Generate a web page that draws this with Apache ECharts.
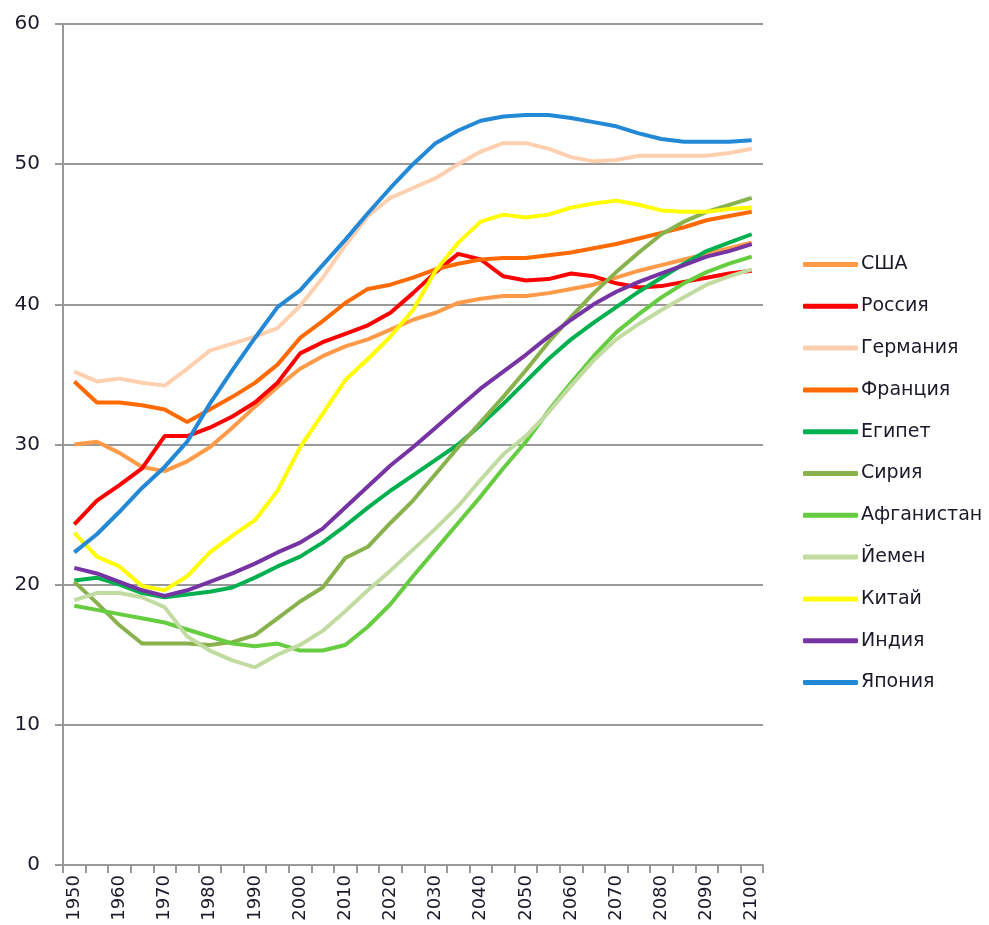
<!DOCTYPE html>
<html>
<head>
<meta charset="utf-8">
<script src="https://cdn.jsdelivr.net/npm/echarts@6/dist/echarts.min.js"></script>
<style>
html,body{margin:0;padding:0;background:#fff;}
#chart{width:989px;height:925px;}
</style>
</head>
<body>
<div id="chart"></div>
<script>
const years = [];
for (let y = 1950; y <= 2100; y += 5) years.push(String(y));

const usa         = [30.0,30.2,29.4,28.4,28.1,28.8,29.8,31.2,32.7,34.1,35.4,36.3,37.0,37.5,38.2,38.9,39.4,40.1,40.4,40.6,40.6,40.8,41.1,41.4,41.9,42.4,42.8,43.2,43.6,44.0,44.4];
const russia      = [24.3,26.0,27.1,28.3,30.6,30.6,31.2,32.0,33.0,34.4,36.5,37.3,37.9,38.5,39.4,40.8,42.3,43.6,43.2,42.0,41.7,41.8,42.2,42.0,41.5,41.2,41.3,41.6,41.9,42.2,42.4];
const germany     = [35.2,34.5,34.7,34.4,34.2,35.4,36.7,37.2,37.7,38.3,39.9,41.9,44.2,46.3,47.6,48.3,49.0,50.0,50.9,51.5,51.5,51.1,50.5,50.2,50.3,50.6,50.6,50.6,50.6,50.8,51.1];
const france      = [34.5,33.0,33.0,32.8,32.5,31.6,32.5,33.4,34.4,35.7,37.6,38.8,40.1,41.1,41.4,41.9,42.5,42.9,43.2,43.3,43.3,43.5,43.7,44.0,44.3,44.7,45.1,45.5,46.0,46.3,46.6];
const egypt       = [20.3,20.5,20.0,19.4,19.1,19.3,19.5,19.8,20.5,21.3,22.0,23.0,24.2,25.5,26.7,27.8,28.9,30.0,31.4,32.9,34.5,36.1,37.5,38.7,39.8,40.9,41.9,42.9,43.8,44.4,45.0];
const syria       = [20.2,18.7,17.1,15.8,15.8,15.8,15.7,15.9,16.4,17.6,18.8,19.8,21.9,22.7,24.4,26.0,27.9,29.8,31.6,33.4,35.3,37.3,39.1,40.8,42.3,43.7,45.0,45.9,46.6,47.1,47.6];
const afghanistan = [18.5,18.2,17.9,17.6,17.3,16.8,16.3,15.8,15.6,15.8,15.3,15.3,15.7,17.0,18.6,20.6,22.5,24.4,26.3,28.3,30.2,32.4,34.4,36.3,38.0,39.3,40.5,41.5,42.3,42.9,43.4];
const yemen       = [18.9,19.4,19.4,19.1,18.4,16.3,15.3,14.6,14.1,15.0,15.7,16.7,18.1,19.6,21.0,22.5,24.0,25.6,27.5,29.3,30.6,32.3,34.2,36.0,37.5,38.6,39.6,40.5,41.4,42.0,42.5];
const china       = [23.7,22.0,21.3,19.9,19.6,20.6,22.3,23.5,24.6,26.7,29.8,32.2,34.6,36.1,37.7,39.6,42.4,44.4,45.9,46.4,46.2,46.4,46.9,47.2,47.4,47.1,46.7,46.6,46.6,46.8,46.9];
const india       = [21.2,20.8,20.2,19.6,19.2,19.6,20.2,20.8,21.5,22.3,23.0,24.0,25.5,27.0,28.5,29.8,31.2,32.6,34.0,35.2,36.4,37.7,38.9,40.0,40.9,41.6,42.2,42.8,43.4,43.8,44.3];
const japan       = [22.3,23.6,25.2,26.9,28.4,30.2,32.9,35.3,37.6,39.8,41.0,42.8,44.6,46.5,48.3,50.0,51.5,52.4,53.1,53.4,53.5,53.5,53.3,53.0,52.7,52.2,51.8,51.6,51.6,51.6,51.7];

const seriesNames  = ['США','Россия','Германия','Франция','Египет','Сирия','Афганистан','Йемен','Китай','Индия','Япония'];
const seriesData   = [usa, russia, germany, france, egypt, syria, afghanistan, yemen, china, india, japan];
const seriesColors = ['#FF9A48','#FF0000','#FFD0B0','#FF6A00','#00B04F','#88B24C','#66CC40','#C2DBA0','#FFFF00','#7533A3','#2389D6'];

const yTicks = [0,10,20,30,40,50,60];

const font = '"DejaVu Sans", Verdana, sans-serif';

const chart = echarts.init(document.getElementById('chart'), null, {renderer:'canvas'});
chart.setOption({
  backgroundColor: '#ffffff',
  animation: false,
  grid: { left: 63, right: 226, top: 24, bottom: 60, containLabel: false },
  legend: {
    orient: 'vertical',
    left: 803,
    top: 255,
    padding: 0,
    icon: 'roundRect',
    itemWidth: 55,
    itemHeight: 5,
    itemGap: 22.8,
    data: seriesNames,
    textStyle: { fontFamily: font, fontSize: 19, color: '#1a1a2a', padding: [0,0,0,-2] }
  },
  xAxis: {
    type: 'category',
    data: years,
    boundaryGap: true,
    axisLine: { show: true, lineStyle: { color: '#999999', width: 2 } },
    axisTick: { show: true, interval: 0, length: 8, lineStyle: { color: '#999999', width: 2 } },
    axisLabel: { interval: 1, rotate: 90, margin: 10, fontFamily: font, fontSize: 18, color: '#1a1a2a' },
    splitLine: { show: false }
  },
  yAxis: {
    type: 'value',
    min: yTicks[0],
    max: yTicks[yTicks.length-1],
    interval: 10,
    axisLine: { show: true, lineStyle: { color: '#999999', width: 2 } },
    axisTick: { show: true, length: 8, lineStyle: { color: '#999999', width: 2 } },
    axisLabel: { margin: 23, fontFamily: font, fontSize: 20, color: '#1a1a2a' },
    splitLine: { show: true, lineStyle: { color: '#999999', width: 2 } }
  },
  series: seriesNames.map((n, i) => ({
    name: n,
    type: 'line',
    data: seriesData[i],
    symbol: 'none',
    smooth: false,
    lineStyle: { color: seriesColors[i], width: 4 },
    itemStyle: { color: seriesColors[i] }
  }))
});
</script>
</body>
</html>
